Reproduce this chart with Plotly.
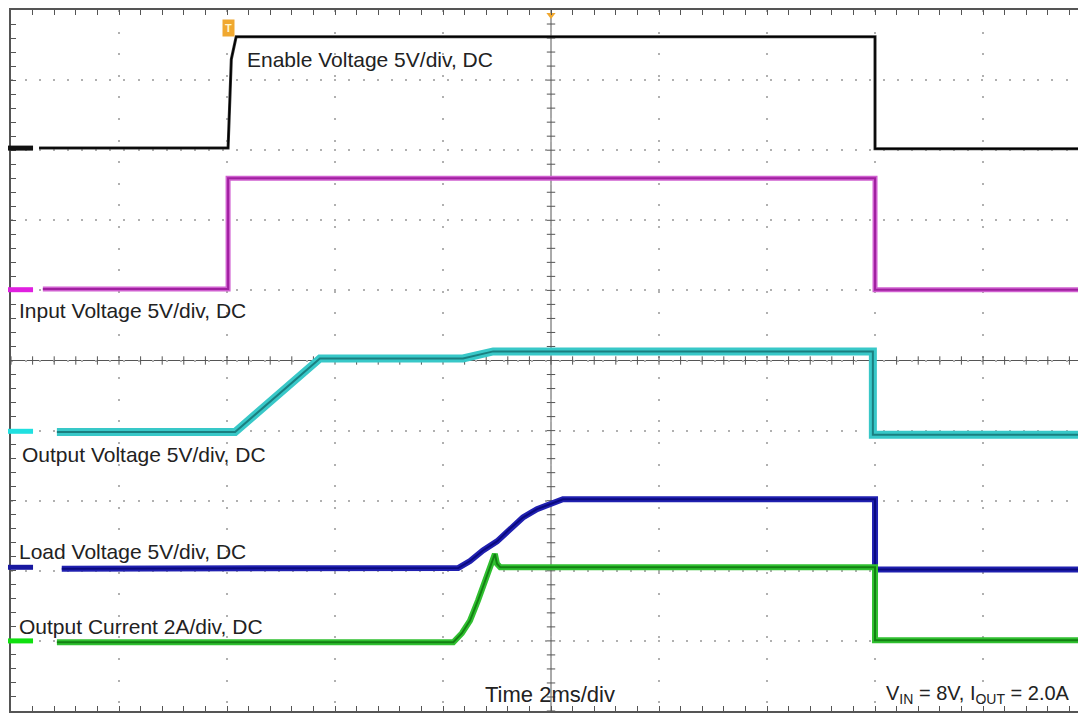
import numpy as np
import plotly.graph_objects as go

# ---- data: time in ms (2 ms/div), amplitude in screen divisions (centre = 0) ----
enable_t = [0.52, 4.02, 4.08, 4.17, 16.0, 16.0, 19.95]
enable_v = [3.03, 3.03, 4.30, 4.62, 4.62, 3.02, 3.02]

input_t = [0.59, 4.02, 4.02, 16.0, 16.0, 19.95]
input_v = [1.02, 1.02, 2.60, 2.60, 1.01, 1.01]

vout_t = [0.85, 4.15, 5.72, 8.37, 8.93, 15.96, 15.96, 19.95]
vout_v = [-1.02, -1.02, 0.03, 0.03, 0.13, 0.13, -1.06, -1.06]

load_t = [0.94, 8.28, 8.50, 8.74, 9.00, 9.24, 9.48, 9.74, 9.98, 10.22, 16.0, 16.0, 19.95]
load_v = [-2.97, -2.96, -2.86, -2.71, -2.58, -2.40, -2.24, -2.12, -2.05, -1.98, -1.98, -2.98, -2.98]

iout_t = [0.85, 8.19, 8.35, 8.50, 8.65, 8.78, 8.91, 8.96, 9.00, 9.06, 16.0, 16.0, 19.95]
iout_v = [-4.02, -4.02, -3.89, -3.71, -3.42, -3.14, -2.86, -2.76, -2.90, -2.95, -2.95, -3.99, -3.99]

channel_names = ["Enable", "Input", "Vout", "Load", "Iout"]
channel_ground = [3.03, 1.01, -1.01, -2.95, -4.00]
channel_marker_colors = ["#111111", "#e020e0", "#20e0e0", "#1818a0", "#10e010"]

labels = [
    "Enable Voltage 5V/div, DC",
    "Input Voltage 5V/div, DC",
    "Output Voltage 5V/div, DC",
    "Load Voltage 5V/div, DC",
    "Output Current 2A/div, DC",
]
time_label = "Time 2ms/div"
cond_label = "V<sub>IN</sub> = 8V, I<sub>OUT</sub> = 2.0A"
trigger_time = 4.02
trigger_level = 2.19

X_DIVS, Y_DIVS = 10, 10
MS_PER_DIV = 2.0
X_MAX = 19.907
GRID = "#b0b0b0"
AXC = "#555555"

fig = go.Figure()

# centre cross tick marks (graticule)
xm = np.arange(0, X_DIVS * MS_PER_DIV + 0.01, MS_PER_DIV / 5)
ym = np.arange(-Y_DIVS / 2, Y_DIVS / 2 + 0.01, 0.2)
fig.add_trace(go.Scatter(x=xm, y=np.zeros_like(xm), mode="markers", hoverinfo="skip",
                         marker=dict(symbol="line-ns-open", size=6, color=AXC,
                                     line=dict(color=AXC, width=1))))
fig.add_trace(go.Scatter(x=np.full_like(ym, 10.0), y=ym, mode="markers", hoverinfo="skip",
                         marker=dict(symbol="line-ew-open", size=6, color=AXC,
                                     line=dict(color=AXC, width=1))))

def band(t, v, outer, w_outer, inner, w_inner):
    fig.add_trace(go.Scatter(x=t, y=v, mode="lines", hoverinfo="skip",
                             line=dict(color=outer, width=w_outer)))
    if inner:
        fig.add_trace(go.Scatter(x=t, y=v, mode="lines", hoverinfo="skip",
                                 line=dict(color=inner, width=w_inner)))

band(enable_t, enable_v, "#333333", 3, "#000000", 1.5)
band(input_t, input_v, "#d060d0", 5, "#a020a0", 2)
band(vout_t, vout_v, "#38c8c8", 8, "#1a7f80", 2)
band(load_t, load_v, "#2020b0", 6, "#0a0a80", 2)
band(iout_t, iout_v, "#30c030", 6, "#138013", 2)

# trigger level marker on the right
fig.add_trace(go.Scatter(x=[19.85], y=[trigger_level], mode="markers", cliponaxis=False,
                         hoverinfo="skip",
                         marker=dict(symbol="triangle-left", size=8, color="#c040c0")))
# trigger position marker at top centre
fig.add_trace(go.Scatter(x=[10.0], y=[4.93], mode="markers", cliponaxis=False, hoverinfo="skip",
                         marker=dict(symbol="triangle-down", size=8, color="#f0a830")))

# centre lines
fig.add_shape(type="line", xref="x", yref="paper", x0=10, x1=10, y0=0, y1=1,
              line=dict(color=AXC, width=1), layer="below")
fig.add_shape(type="line", xref="paper", yref="y", x0=0, x1=1, y0=0, y1=0,
              line=dict(color=AXC, width=1), layer="below")

# channel ground markers on the left
for g, c in zip(channel_ground, channel_marker_colors):
    fig.add_shape(type="line", xref="paper", yref="y", x0=-0.0056, x1=0.0205, y0=g, y1=g,
                  line=dict(color=c, width=5), layer="above")

font = dict(family="Liberation Sans, Arial, sans-serif", size=21, color="#222")
label_pos = [(0.2177, 0.930), (0.0056, 0.572), (0.0084, 0.366), (0.0056, 0.2275), (0.0056, 0.1205)]
for txt, (px, py) in zip(labels, label_pos):
    fig.add_annotation(text=txt, x=px, y=py, xref="paper", yref="paper", xanchor="left",
                       yanchor="middle", showarrow=False, font=font)
fig.add_annotation(text=time_label, x=0.501, y=0.0235, xref="paper", yref="paper",
                   xanchor="center", yanchor="middle", showarrow=False,
                   font=dict(font, size=22))
fig.add_annotation(text=cond_label, x=0.987, y=0.0235, xref="paper", yref="paper",
                   xanchor="right", yanchor="middle", showarrow=False,
                   font=dict(font, size=20))
fig.add_annotation(text="<b>T</b>", x=trigger_time, y=0.975, xref="x", yref="paper",
                   xanchor="center", yanchor="middle", showarrow=False,
                   font=dict(family="Liberation Sans", size=11, color="#fff6d0"),
                   bgcolor="#f0a830", borderpad=2)

# page body adds an 8px offset: compensate with margins so the grid lands in place
fig.update_layout(width=1078, height=705, margin=dict(l=3, r=0, t=0, b=2),
                  plot_bgcolor="white", paper_bgcolor="white", showlegend=False)
fig.update_xaxes(range=[0, X_MAX], tick0=0, dtick=MS_PER_DIV, showgrid=True, gridcolor=GRID,
                 griddash="2px,19.6px", gridwidth=1.5, showline=True, linecolor=AXC,
                 linewidth=2, mirror="ticks", ticks="inside", ticklen=5, tickcolor=AXC,
                 showticklabels=False, zeroline=False,
                 minor=dict(dtick=MS_PER_DIV / 5, tick0=0, ticks="inside", ticklen=5,
                            tickcolor=AXC, showgrid=False))
fig.update_yaxes(range=[-Y_DIVS / 2, Y_DIVS / 2], tick0=0, dtick=1, showgrid=True,
                 gridcolor=GRID, griddash="2px,12.06px", gridwidth=1.5, showline=True,
                 linecolor=AXC, linewidth=1.5, mirror=False, ticks="inside", ticklen=5,
                 tickcolor=AXC, showticklabels=False, zeroline=False,
                 minor=dict(dtick=0.2, tick0=0, ticks="inside", ticklen=5, tickcolor=AXC,
                            showgrid=False))

fig.write_html("out.html")
